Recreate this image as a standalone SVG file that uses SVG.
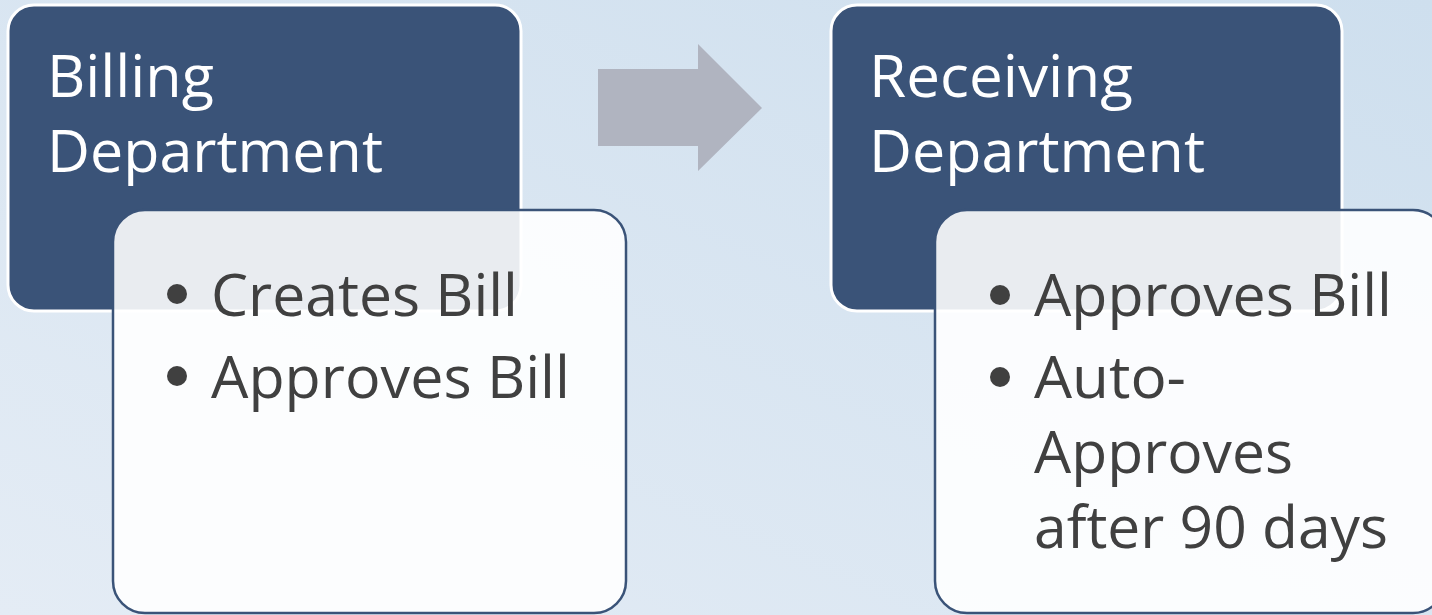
<svg xmlns="http://www.w3.org/2000/svg" width="1432" height="615" viewBox="0 0 1432 615">
  <defs>
    <linearGradient id="bg" x1="0" y1="1" x2="1" y2="0">
      <stop offset="0" stop-color="#E4ECF5"/>
      <stop offset="1" stop-color="#CEDFEE"/>
    </linearGradient>
    <style>
      .head { fill: #3A5378; stroke: #FFFFFF; stroke-width: 3; }
      .body { fill: #FFFFFF; fill-opacity: 0.89; stroke: #3A5378; stroke-width: 2.5; }
      .title { font-family: "Open Sans", "Noto Sans", sans-serif; font-size: 58px; fill: #FFFFFF; }
      .item { font-family: "Open Sans", "Noto Sans", sans-serif; font-size: 58px; fill: #404040; }
      .dot { fill: #404040; }
      .arrow { fill: #B0B4C0; }
    </style>
  </defs>

  <rect width="1432" height="615" fill="url(#bg)"/>

  <!-- Billing department -->
  <g id="billing-head">
    <rect class="head" x="8" y="5" width="513" height="306" rx="26"/>
    <text class="title" x="47" y="97" textLength="167" lengthAdjust="spacingAndGlyphs">Billing</text>
    <text class="title" x="47" y="172" textLength="336" lengthAdjust="spacingAndGlyphs">Department</text>
  </g>
  <g id="billing-tasks">
    <rect class="body" x="113" y="210" width="513" height="403" rx="32"/>
    <circle class="dot" cx="177" cy="294" r="10"/>
    <text class="item" x="211" y="316" textLength="307" lengthAdjust="spacingAndGlyphs">Creates Bill</text>
    <circle class="dot" cx="177" cy="376" r="10"/>
    <text class="item" x="211" y="398" textLength="359" lengthAdjust="spacingAndGlyphs">Approves Bill</text>
  </g>

  <!-- Receiving department -->
  <g id="receiving-head">
    <rect class="head" x="831" y="5" width="511" height="306" rx="26"/>
    <text class="title" x="869" y="97" textLength="264" lengthAdjust="spacingAndGlyphs">Receiving</text>
    <text class="title" x="869" y="172" textLength="336" lengthAdjust="spacingAndGlyphs">Department</text>
  </g>
  <g id="receiving-tasks">
    <rect class="body" x="935" y="210" width="510" height="403" rx="32"/>
    <circle class="dot" cx="1000" cy="295" r="10"/>
    <text class="item" x="1034" y="316" textLength="358" lengthAdjust="spacingAndGlyphs">Approves Bill</text>
    <circle class="dot" cx="1000" cy="377" r="10"/>
    <text class="item" x="1034" y="398" textLength="152" lengthAdjust="spacingAndGlyphs">Auto-</text>
    <text class="item" x="1034" y="473" textLength="259" lengthAdjust="spacingAndGlyphs">Approves</text>
    <text class="item" x="1034" y="548" textLength="354" lengthAdjust="spacingAndGlyphs">after 90 days</text>
  </g>

  <!-- flow arrow between the two departments -->
  <g id="connectors">
    <polygon class="arrow" points="598,69 698,69 698,44 762,108 698,171 698,146 598,146"/>
  </g>
</svg>
